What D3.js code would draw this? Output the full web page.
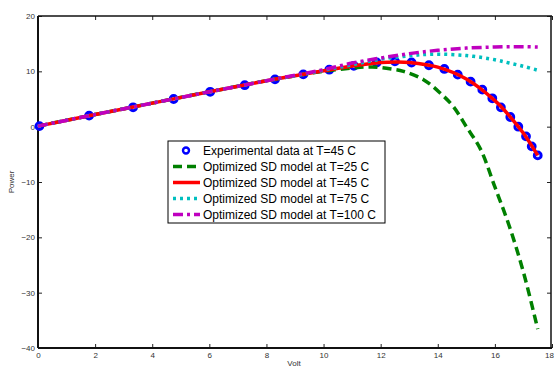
<!DOCTYPE html>
<html>
<head>
<meta charset="utf-8">
<script src="https://cdnjs.cloudflare.com/ajax/libs/d3/7.8.5/d3.min.js"></script>
<style>
	body { margin: 0; background: #fff; }
	text { font-family: "Liberation Sans", Arial, sans-serif; }
	.tick text { fill: #333; font-size: 8px; }
	.tick line { stroke: #222; }
</style>
</head>
<body>
<div id="graphs"></div>
<script>
// experimental data at T=45 C
var expVolt  = [0.05, 1.79, 3.33, 4.75, 6.03, 7.24, 8.3, 9.29, 10.2, 11.06, 11.86, 12.5, 13.08, 13.69,
                14.23, 14.7, 15.15, 15.56, 15.91, 16.21, 16.54, 16.82, 17.09, 17.29, 17.5];
var expPower = [0.1, 2.0, 3.5, 5.0, 6.3, 7.5, 8.55, 9.45, 10.3, 11.0, 11.6, 11.8, 11.6, 11.1,
                10.43, 9.4, 8.14, 6.69, 5.12, 3.49, 1.75, 0, -1.75, -3.56, -5.19];

// optimized SD model curves
var volt25  = [0, 2, 4, 6, 8, 9, 10, 11, 11.7, 12.4, 12.8, 13.5, 14.1, 14.55, 15, 15.5, 16, 16.5, 17, 17.5];
var power25 = [0.1, 2.2, 4.25, 6.3, 8.3, 9.2, 10.0, 10.6, 10.8, 10.4, 10.0, 8.5, 6.0, 3.6, 0, -4.1, -10.9, -17.9, -26.3, -36.6];

var volt45  = [0, 2, 4, 6, 8, 9, 10, 11, 12, 12.6, 13, 14, 15, 16, 16.5, 17, 17.5];
var power45 = [0.1, 2.2, 4.25, 6.3, 8.3, 9.2, 10.1, 10.95, 11.6, 11.7, 11.6, 10.75, 8.6, 4.7, 2.0, -1.2, -5.2];

var volt75  = [0, 2, 4, 6, 8, 9, 10, 11, 12, 13, 13.8, 15, 16, 16.5, 17, 17.5];
var power75 = [0.1, 2.2, 4.25, 6.3, 8.3, 9.2, 10.2, 11.2, 12.2, 12.8, 13.1, 12.85, 12.1, 11.5, 10.9, 10.2];

var volt100  = [0, 2, 4, 6, 8, 9, 10, 11, 12, 13, 14, 15, 16, 17, 17.5];
var power100 = [0.1, 2.2, 4.25, 6.3, 8.3, 9.3, 10.3, 11.5, 12.4, 13.2, 13.8, 14.2, 14.4, 14.45, 14.4];

var xTicks = [0, 2, 4, 6, 8, 10, 12, 14, 16, 18];
var yTicks = [-40, -30, -20, -10, 0, 10, 20];

var legendLabels = ["Experimental data at T=45 C", "Optimized SD model at T=25 C", "Optimized SD model at T=45 C",
                    "Optimized SD model at T=75 C", "Optimized SD model at T=100 C"];

function zip(xs, ys) {
	return xs.map(function(x, i) { return {v: x, p: ys[i]}; });
}

var series = [
	{data: zip(volt25, power25),   color: "#008000", width: 3.5, dash: "9,5"},
	{data: zip(volt45, power45),   color: "#ff0000", width: 3.5, dash: null},
	{data: zip(volt75, power75),   color: "#00bfbf", width: 3.5, dash: "3,4"},
	{data: zip(volt100, power100), color: "#bf00bf", width: 3.5, dash: "10,4,3,4"}
];

function loadGraph() {
	var width  = 554;
	var height = 369;
	var plot   = {left: 38, right: 552, top: 16, bottom: 348};

	var svg = d3.select('#graphs').append("svg")
		.attr("width", width)
		.attr("height", height);

	var xScale = d3.scaleLinear().domain([0, 18]).range([plot.left, plot.right]);
	var yScale = d3.scaleLinear().domain([-40, 20]).range([plot.bottom, plot.top]);

	drawAxes(svg, xScale, yScale, plot);
	drawPoints(svg, zip(expVolt, expPower), xScale, yScale);

	var line = d3.line()
		.x(function(d) { return xScale(d.v); })
		.y(function(d) { return yScale(d.p); })
		.curve(d3.curveCatmullRom);

	series.forEach(function(s) {
		svg.append("path")
			.datum(s.data)
			.attr("fill", "none")
			.attr("stroke", s.color)
			.attr("stroke-width", s.width)
			.attr("stroke-dasharray", s.dash)
			.attr("d", line);
	});

	addLegend(svg);
}

function drawAxes(svg, xScale, yScale, plot) {
	var bottom = d3.axisBottom(xScale).tickValues(xTicks).tickSizeInner(-4).tickSizeOuter(0).tickPadding(4);
	var top    = d3.axisTop(xScale).tickValues(xTicks).tickSizeInner(-4).tickSizeOuter(0).tickFormat("");
	var left   = d3.axisLeft(yScale).tickValues(yTicks).tickSizeInner(-4).tickSizeOuter(0).tickPadding(3);
	var right  = d3.axisRight(yScale).tickValues(yTicks).tickSizeInner(-4).tickSizeOuter(0).tickFormat("");

	var gb = svg.append("g").attr("transform", "translate(0," + plot.bottom + ")").call(bottom);
	svg.append("g").attr("transform", "translate(0," + plot.top + ")").call(top);
	svg.append("g").attr("transform", "translate(" + plot.left + ",0)").call(left);
	svg.append("g").attr("transform", "translate(" + (plot.right - 1) + ",0)").call(right);
	svg.selectAll(".domain").remove();

	// last label sits on the window edge, keep it inside
	gb.selectAll(".tick text").filter(function(d) { return d === 18; })
		.attr("text-anchor", "end").attr("dx", "1.5");

	// frame: left and bottom heavier
	svg.append("line").attr("x1", plot.left).attr("x2", plot.right).attr("y1", plot.top).attr("y2", plot.top)
		.attr("stroke", "#111").attr("stroke-width", 1.5);
	svg.append("line").attr("x1", plot.right - 1).attr("x2", plot.right - 1).attr("y1", plot.top).attr("y2", plot.bottom)
		.attr("stroke", "#111").attr("stroke-width", 1.5);
	svg.append("line").attr("x1", plot.left).attr("x2", plot.right).attr("y1", plot.bottom).attr("y2", plot.bottom)
		.attr("stroke", "#111").attr("stroke-width", 2);
	svg.append("line").attr("x1", plot.left).attr("x2", plot.left).attr("y1", plot.top).attr("y2", plot.bottom)
		.attr("stroke", "#111").attr("stroke-width", 2);

	svg.append("text")
		.attr("x", (plot.left + plot.right) / 2 - 1)
		.attr("y", 366)
		.attr("text-anchor", "middle")
		.attr("font-size", "8px")
		.attr("fill", "#333")
		.text("Volt");

	svg.append("text")
		.attr("transform", "translate(14," + (plot.top + plot.bottom) / 2 + ") rotate(-90)")
		.attr("text-anchor", "middle")
		.attr("font-size", "8px")
		.attr("fill", "#333")
		.text("Power");
}

function drawPoints(svg, pts, xScale, yScale) {
	svg.selectAll(".dot")
		.data(pts)
		.enter()
		.append("circle")
		.attr("class", "dot")
		.attr("cx", function(d) { return xScale(d.v); })
		.attr("cy", function(d) { return yScale(d.p); })
		.attr("r", 3.4)
		.attr("fill", "#d8d8ff")
		.attr("stroke", "#0000ff")
		.attr("stroke-width", 3);
}

function addLegend(svg) {
	var lx = 168, ly = 141, lw = 217, lh = 82, rowH = 16;
	var g = svg.append("g");
	g.append("rect")
		.attr("x", lx).attr("y", ly).attr("width", lw).attr("height", lh)
		.attr("fill", "#fff").attr("stroke", "#000").attr("stroke-width", 1);

	legendLabels.forEach(function(label, i) {
		var cy = ly + 9.5 + i * rowH;
		if (i === 0) {
			g.append("circle")
				.attr("cx", 186).attr("cy", cy).attr("r", 3)
				.attr("fill", "#fff").attr("stroke", "#0000ff").attr("stroke-width", 2.4);
		} else {
			var s = series[i - 1];
			g.append("line")
				.attr("x1", 173).attr("x2", 200).attr("y1", cy).attr("y2", cy)
				.attr("stroke", s.color)
				.attr("stroke-width", s.width)
				.attr("stroke-dasharray", s.dash);
		}
		g.append("text")
			.attr("x", 203)
			.attr("y", cy + 4.2)
			.attr("font-size", "12px")
			.attr("fill", "#000")
			.text(label);
	});
}

loadGraph();
</script>
</body>
</html>
